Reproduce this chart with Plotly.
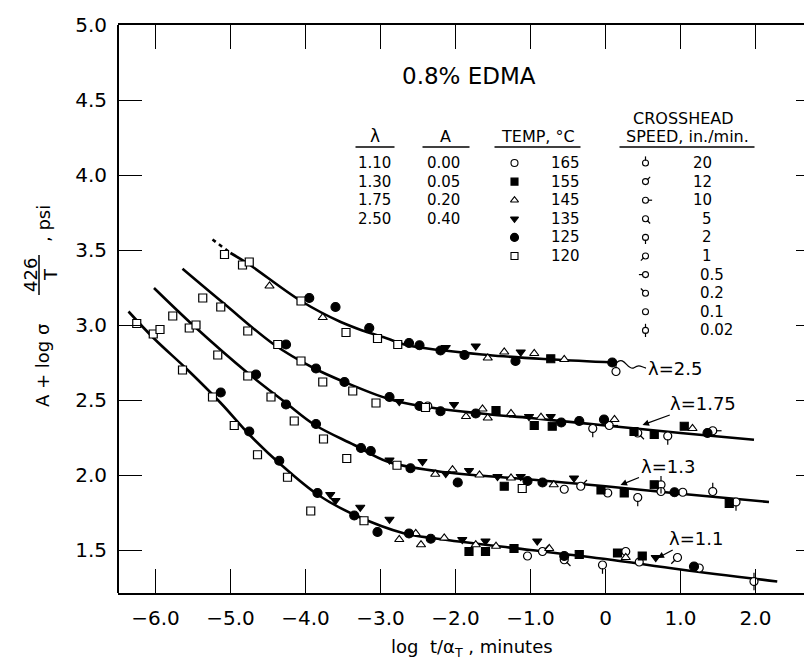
import plotly.graph_objects as go

# master curves
l25_line_x = [-5.0, -4.77, -4.06, -3.53, -3.22, -2.91, -2.64, -1.57, -0.7, 0.12]
l25_line_y = [3.48, 3.41, 3.16, 3.02, 2.96, 2.91, 2.865, 2.80, 2.77, 2.75]
l25_dash_x = [-5.24, -5.0]
l25_dash_y = [3.57, 3.48]
l175_line_x = [-5.64, -5.08, -4.42, -3.88, -3.48, -2.91, -2.47, -1.57, -1.0, 0.0, 1.0, 1.98]
l175_line_y = [3.375, 3.14, 2.87, 2.71, 2.62, 2.51, 2.46, 2.405, 2.38, 2.33, 2.28, 2.235]
l13_line_x = [-6.02, -5.48, -4.77, -4.26, -3.88, -3.35, -2.91, -2.24, -1.0, 0.0, 1.0, 2.18]
l13_line_y = [3.247, 2.99, 2.68, 2.48, 2.335, 2.20, 2.09, 2.025, 1.97, 1.925, 1.875, 1.82]
l11_line_x = [-6.36, -6.02, -5.57, -5.13, -4.75, -4.33, -3.84, -3.35, -2.68, -2.24, -1.0, 0.0, 1.0, 2.29]
l11_line_y = [3.09, 2.91, 2.70, 2.48, 2.27, 2.07, 1.87, 1.735, 1.61, 1.575, 1.50, 1.44, 1.37, 1.29]

# data points: x, y, temperature (C), crosshead speed (in./min, None = no flag)
l25_x = [-5.08, -4.84, -4.75, -4.06, -3.46, -3.04, -2.77,
         -4.48, -3.77, -1.57, -1.35, -0.95, -0.55,
         -3.95, -3.60, -3.15, -2.62, -2.48, -2.20, -1.88, -1.20, 0.09,
         -2.13, -1.73, -1.13, -0.73, 0.14]
l25_y = [3.47, 3.40, 3.42, 3.16, 2.95, 2.91, 2.87,
         3.26, 3.05, 2.78, 2.82, 2.81, 2.77,
         3.18, 3.12, 2.98, 2.88, 2.865, 2.83, 2.80, 2.76, 2.75,
         2.85, 2.86, 2.82, 2.775, 2.69]
l25_t = [120] * 7 + [145] * 6 + [125] * 9 + [135] * 3 + [155, 165]
l25_s = [None] * 26 + [20]

l175_x = [-5.37, -5.13, -4.77, -4.37, -4.06, -3.77, -3.37, -3.06, -2.40,
          -4.26, -3.86, -3.48, -2.88, -2.48, -2.20, -1.73, -0.59, -0.35, -0.02, 1.36,
          -2.75, -2.02, -1.02, -0.73,
          -1.86, -1.64, -1.57, -1.26, -0.86, 0.12, 1.16,
          -1.46, -0.95, -0.71, 0.38, 0.65, 1.05,
          -2.37, -0.17, 0.05, 0.43, 0.83, 1.43]
l175_y = [3.18, 3.12, 2.96, 2.87, 2.76, 2.62, 2.56, 2.48, 2.45,
          2.87, 2.71, 2.62, 2.52, 2.46, 2.425, 2.41, 2.35, 2.36, 2.37, 2.28,
          2.49, 2.47, 2.39, 2.39,
          2.39, 2.44, 2.38, 2.41, 2.385, 2.37, 2.31,
          2.43, 2.33, 2.325, 2.29, 2.27, 2.325,
          2.46, 2.31, 2.33, 2.28, 2.26, 2.295]
l175_t = [120] * 9 + [125] * 11 + [135] * 4 + [145] * 7 + [155] * 6 + [165] * 6
l175_s = [None] * 37 + [None, 2, 10, 5, 2, 10]

l13_x = [-5.77, -5.55, -5.46, -5.17, -4.77, -4.46, -4.15, -3.76, -3.45, -2.78, -1.11,
         -4.66, -4.26, -3.86, -3.26, -3.13, -2.60, -1.97, -1.04, -0.84, 0.92,
         -2.88, -2.44, -2.13, -1.82, -1.44, -1.13, -0.42,
         -2.27, -2.04, -1.68, -1.26, -0.69,
         -1.35, -0.06, 0.25, 0.65, 1.65,
         -0.55, -0.33, 0.03, 0.43, 0.74, 0.74, 1.03, 1.43, 1.74]
l13_y = [3.06, 2.98, 3.00, 2.80, 2.66, 2.52, 2.36, 2.24, 2.11, 2.065, 1.91,
         2.67, 2.47, 2.34, 2.18, 2.16, 2.045, 1.95, 1.96, 1.95, 1.885,
         2.10, 2.09, 2.01, 2.03, 1.99, 1.99, 1.98,
         2.005, 2.035, 2.00, 1.98, 1.935,
         1.925, 1.90, 1.88, 1.935, 1.81,
         1.905, 1.925, 1.88, 1.85, 1.935, 1.89, 1.885, 1.89, 1.82]
l13_t = [120] * 11 + [125] * 10 + [135] * 7 + [145] * 5 + [155] * 5 + [165] * 9
l13_s = [None] * 38 + [0.1, 12, 0.5, 2, 0.02, 0.1, None, 20, 2]

l11_x = [-6.25, -6.03, -5.94, -5.64, -5.24, -4.95, -4.64, -4.24, -3.93, -3.22,
         -5.13, -4.75, -4.35, -3.84, -3.35, -3.04, -2.62, -2.33, -0.55, 1.18,
         -3.67, -3.60, -3.27, -2.88, -1.91, -1.60, -0.91, 0.67,
         -2.75, -2.53, -2.46, -2.15, -1.73, -1.46, -0.75, 0.27,
         -1.82, -1.60, -1.22, -0.35, 0.16, 0.49,
         -1.04, -0.84, -0.55, -0.04, 0.27, 0.45, 0.96, 1.25, 1.98]
l11_y = [3.01, 2.94, 2.97, 2.70, 2.52, 2.33, 2.135, 1.985, 1.76, 1.695,
         2.55, 2.29, 2.095, 1.88, 1.73, 1.62, 1.61, 1.575, 1.46, 1.39,
         1.87, 1.83, 1.785, 1.705, 1.57, 1.56, 1.56, 1.45,
         1.57, 1.61, 1.535, 1.58, 1.535, 1.525, 1.51, 1.45,
         1.49, 1.49, 1.51, 1.47, 1.48, 1.46,
         1.46, 1.49, 1.435, 1.40, 1.49, 1.42, 1.45, 1.38, 1.29]
l11_t = [120] * 10 + [125] * 10 + [135] * 8 + [145] * 8 + [155] * 6 + [165] * 9
l11_s = [None] * 42 + [0.1, 12, 5, 2, 0.1, None, 1, None, 0.02]

# legend table
lam_vals = ["1.10", "1.30", "1.75", "2.50"]
a_vals = ["0.00", "0.05", "0.20", "0.40"]
temps = [165, 155, 145, 135, 125, 120]
speeds = ["20", "12", "10", "5", "2", "1", "0.5", "0.2", "0.1", "0.02"]

x_ticks = [-6, -5, -4, -3, -2, -1, 0, 1, 2]
x_ticktext = ["\u22126.0", "\u22125.0", "\u22124.0", "\u22123.0", "\u22122.0", "\u22121.0", "0", "1.0", "2.0"]
y_ticks = [1.5, 2.0, 2.5, 3.0, 3.5, 4.0, 4.5, 5.0]

temp_style = {
    165: ("circle", "white", 8),
    155: ("square", "black", 8),
    145: ("triangle-up", "white", 8),
    135: ("triangle-down", "black", 8),
    125: ("circle", "black", 9),
    120: ("square", "white", 8),
}
# pip direction on the open circle, degrees clockwise from up
speed_pips = {"20": [0], "12": [45], "10": [90], "5": [135], "2": [180],
              "1": [225], "0.5": [270], "0.2": [315], "0.1": [], "0.02": [0, 180]}

FONT = "DejaVu Sans"


def dx(px):
    return -6 + (px - 148) / 75.0


def dy(py):
    return 1.5 + (542 - py) / 150.0


fig = go.Figure()

for lx, ly in [(l25_line_x, l25_line_y), (l175_line_x, l175_line_y),
               (l13_line_x, l13_line_y), (l11_line_x, l11_line_y)]:
    fig.add_trace(go.Scatter(x=lx, y=ly, mode="lines", line_shape="spline",
                             line=dict(color="black", width=2.6), hoverinfo="skip"))
fig.add_trace(go.Scatter(x=l25_dash_x, y=l25_dash_y, mode="lines",
                         line=dict(color="black", width=2.6, dash="4px,4px")))

all_x = l25_x + l175_x + l13_x + l11_x
all_y = l25_y + l175_y + l13_y + l11_y
all_t = l25_t + l175_t + l13_t + l11_t
all_s = l25_s + l175_s + l13_s + l11_s


def add_pips(xs, ys, ss, size=4, off=6):
    px_, py_, ang = [], [], []
    for x, y, s in zip(xs, ys, ss):
        if s is None:
            continue
        for a in speed_pips[str(s)]:
            px_.append(x)
            py_.append(y)
            ang.append(a + 180)  # standoff pushes opposite to the screen angle
    fig.add_trace(go.Scatter(x=px_, y=py_, mode="markers",
                             marker=dict(symbol="line-ns", size=size, angle=ang, standoff=off,
                                         line=dict(color="black", width=1.2))))


for t in temps:
    sym, fill, size = temp_style[t]
    xs = [x for x, tt in zip(all_x, all_t) if tt == t]
    ys = [y for y, tt in zip(all_y, all_t) if tt == t]
    fig.add_trace(go.Scatter(x=xs, y=ys, mode="markers",
                             marker=dict(symbol=sym, size=size, color=fill,
                                         line=dict(color="black", width=1.2))))
add_pips(all_x, all_y, all_s)

# legend table markers
row_y = [dy(155 + 18.6 * i) for i in range(10)]
for i, t in enumerate(temps):
    sym, fill, size = temp_style[t]
    fig.add_trace(go.Scatter(x=[dx(507)], y=[row_y[i]], mode="markers",
                             marker=dict(symbol=sym, size=size - 1, color=fill,
                                         line=dict(color="black", width=1.1))))
fig.add_trace(go.Scatter(x=[dx(638)] * len(speeds), y=row_y, mode="markers",
                         marker=dict(symbol="circle", size=6, color="white",
                                     line=dict(color="black", width=1.1))))
add_pips([dx(638)] * len(speeds), row_y, speeds, size=3, off=4.5)

ann = []


def txt(x, y, s, size=15, anchor="center", **kw):
    ann.append(dict(x=x, y=y, text=s, showarrow=False, xanchor=anchor, yanchor="middle",
                    font=dict(family=FONT, size=size, color="black"), **kw))


txt(dx(461), dy(68), "0.8% EDMA", size=23)
txt(dx(367), dy(128), "\u03bb", size=17)
txt(dx(438), dy(128), "A", size=16)
txt(dx(530), dy(128), "TEMP, \u00b0C", size=16)
txt(dx(676), dy(110), "CROSSHEAD", size=16)
txt(dx(680), dy(128), "SPEED, in./min.", size=16)
for i, v in enumerate(lam_vals):
    txt(dx(367), row_y[i], v, height=18)
    txt(dx(436), row_y[i], a_vals[i], height=18)
for i, t in enumerate(temps):
    txt(dx(558), row_y[i], str(t), height=18)
for i, s in enumerate(speeds):
    if "." in s:
        txt(dx(690), row_y[i], s, anchor="left", height=18)
    else:
        txt(dx(706), row_y[i], s, anchor="right", height=18)

# curve labels, three of them with arrows to their curve
txt(dx(667), dy(360), "\u03bb=2.5", size=18)
for s, hx, hy, tx, ty in [("\u03bb=1.75", 635, 417, 695, 395),
                          ("\u03bb=1.3", 613, 477, 660, 458),
                          ("\u03bb=1.1", 650, 550, 688, 530)]:
    ann.append(dict(x=dx(hx), y=dy(hy), ax=dx(tx), ay=dy(ty), axref="x", ayref="y",
                    text=s, showarrow=True, arrowhead=2, arrowsize=1, arrowwidth=1.3,
                    arrowcolor="black", font=dict(family=FONT, size=18, color="black")))

# y axis title with the 426/T fraction (rotated)
W, H, L, B = 702.0, 568.0, 110.0, 585.0


def ptxt(px, py, s, size=18):
    ann.append(dict(x=(px - L) / W, y=(B - py) / H, xref="paper", yref="paper", text=s,
                    showarrow=False, textangle=-90, xanchor="center", yanchor="middle",
                    font=dict(family=FONT, size=size, color="black")))


ptxt(35, 358, "A + log \u03c3")
ptxt(22, 267, "426")
ptxt(42, 267, "T")
ptxt(35, 216, ", psi")

# x axis title
ann.append(dict(x=(464 - L) / W, y=(B - 640) / H, xref="paper", yref="paper",
                text="log  t/\u03b1<sub>T</sub> , minutes", showarrow=False,
                xanchor="center", yanchor="middle",
                font=dict(family=FONT, size=18, color="black")))

shapes = [
    dict(type="line", xref="paper", yref="paper", x0=0, x1=0, y0=0, y1=1,
         line=dict(color="black", width=2)),
    dict(type="line", xref="paper", yref="paper", x0=(31 - L) / W, x1=(31 - L) / W,
         y0=(B - 287) / H, y1=(B - 247) / H, line=dict(color="black", width=1.5)),
    dict(type="path", path="M 0.15,2.75 C 0.25,2.80 0.30,2.69 0.38,2.715 S 0.47,2.72 0.54,2.713",
         line=dict(color="black", width=1.2)),
]
for x0, x1 in [(348, 387), (415, 462), (487, 573), (612, 747)]:
    shapes.append(dict(type="line", x0=dx(x0), x1=dx(x1), y0=dy(139), y1=dy(139),
                       line=dict(color="black", width=1.4)))

fig.update_layout(
    width=812, height=660, showlegend=False,
    margin=dict(l=110, r=0, t=17, b=75),
    plot_bgcolor="white", paper_bgcolor="white",
    font=dict(family=FONT, color="black"),
    annotations=ann, shapes=shapes,
    xaxis=dict(range=[-6.5, -6.5 + 702 / 75.0], tickvals=x_ticks, ticktext=x_ticktext,
               ticks="inside", ticklen=24, tickwidth=1.2, tickcolor="black",
               showline=True, linecolor="black", linewidth=2, mirror="ticks",
               showgrid=False, zeroline=False, ticklabelstandoff=6,
               tickfont=dict(family=FONT, size=20)),
    yaxis=dict(range=[1.5 - 43 / 150.0, 5.0], tickvals=y_ticks, ticktext=[f"{v:.1f}" for v in y_ticks],
               ticks="inside", ticklen=24, tickwidth=1.2, tickcolor="black",
               showline=False, mirror="ticks",
               showgrid=False, zeroline=False, ticklabelstandoff=10,
               tickfont=dict(family=FONT, size=20)),
)

fig.write_html("out.html")
